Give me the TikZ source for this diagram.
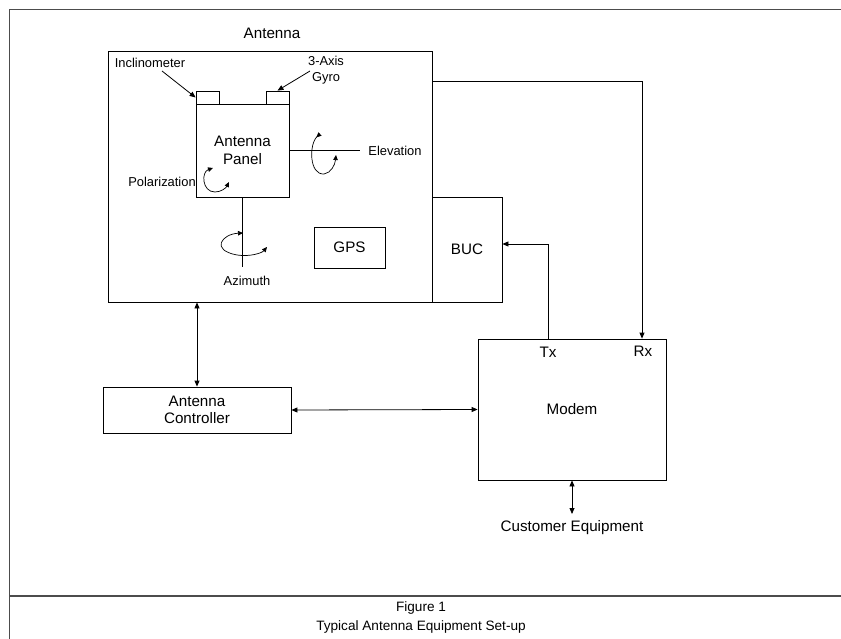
\documentclass[tikz,border=0pt]{standalone}
\usepackage{fontspec}
\setmainfont{Liberation Sans}
\usetikzlibrary{arrows.meta}

\newcommand{\bigtxt}{\fontsize{15.2}{17.5}\selectfont}
\newcommand{\smalltxt}{\fontsize{12.9}{15.5}\selectfont}

\tikzset{
  unit/.style={draw, line width=0.8pt, inner sep=0pt, font=\bigtxt, align=center},
  lbl/.style={inner sep=1pt, font=\bigtxt, align=center},
  slbl/.style={inner sep=1pt, font=\smalltxt, align=center},
  link/.style={line width=0.8pt, -{Triangle[length=6pt,width=5pt]}},
  dlink/.style={line width=0.8pt, {Triangle[length=6pt,width=5pt]}-{Triangle[length=6pt,width=5pt]}},
  rot/.style={line width=0.7pt, {Triangle[length=5pt,width=4.5pt]}-{Triangle[length=5pt,width=4.5pt]}},
  frame/.style={line width=1.2pt, gray!60!black}
}

\begin{document}
\begin{tikzpicture}[x=1pt,y=-1pt]
  \useasboundingbox (0,0) rectangle (841,639);

  % page frame and caption
  \draw[frame] (9.5,639) -- (9.5,9.5) -- (841,9.5);
  \draw[frame] (9.5,596) -- (841,596);
  \node[lbl, font=\fontsize{13.6}{16}\selectfont] (fig) at (421,608) {Figure 1};
  \node[lbl, font=\fontsize{13.6}{16}\selectfont] (title) at (421,627) {Typical Antenna Equipment Set-up};

  % antenna unit
  \node[lbl] (antlbl) at (272,33) {Antenna};
  \node[unit, minimum width=324pt, minimum height=251pt] (ant) at (270,176.5) {};
  \node[unit, minimum width=93pt, minimum height=93pt] (panel) at (242.5,150.5) {Antenna\\Panel};
  \node[unit, minimum width=23pt, minimum height=13pt] (incl) at (207.5,97.5) {};
  \node[unit, minimum width=23pt, minimum height=13pt] (gyro) at (277.5,97.5) {};
  \node[unit, minimum width=71pt, minimum height=41pt] (gps) at (349.5,247.5) {GPS};
  \node[unit, minimum width=70pt, minimum height=105pt] (buc) at (467,249.5) {BUC};

  \node[slbl] (incllbl) at (150,63) {Inclinometer};
  \node[slbl] (gyrolbl) at (326,70) {3-Axis\\Gyro};
  \coordinate (inclfrom) at (162,71);
  \coordinate (gyrofrom) at (310,71);
  \draw[link] (inclfrom) -- (incl.west);
  \draw[link] (gyrofrom) -- (gyro.north);

  % axes
  \node[slbl] (elev) at (395,151) {Elevation};
  \node[slbl] (azim) at (247,281) {Azimuth};
  \node[slbl] (polar) at (162,182) {Polarization};
  \coordinate (elevend) at (360,150.5);
  \coordinate (azimend) at (242.5,267);
  \draw[line width=0.8pt] (panel.east) -- (elevend);
  \draw[line width=0.8pt] (panel.south) -- (azimend);

  \draw[rot, {Triangle[reversed,length=5pt,width=4.5pt]}-{Triangle[length=5pt,width=4.5pt]}]
    (320,134) .. controls (309,144) and (309,175) .. (324,174) .. controls (331,173) and (335,165) .. (336,155);
  \draw[rot] (213,168) .. controls (201,172) and (202,192) .. (215,192) .. controls (221,192) and (226,188) .. (229,182);
  \draw[rot] (243,233) .. controls (222,234) and (210,250) .. (237,255) .. controls (250,257) and (262,253) .. (267,247);

  % ground equipment
  \node[unit, minimum width=188pt, minimum height=46pt] (ctrl) at (197,410) {Antenna\\Controller};
  \node[unit, minimum width=188pt, minimum height=141pt] (modem) at (572,409.5) {Modem};
  \node[lbl] (tx) at (548,352) {Tx};
  \node[lbl] (rx) at (643,351) {Rx};
  \node[lbl] (cust) at (572,528) {Customer Equipment};
  \coordinate (custend) at (572,514);

  % connectors
  \coordinate (rxturn) at (642,81);
  \coordinate (txturn) at (548,244);
  \draw[link] (rxturn -| ant.east) -- (rxturn) -- (rxturn |- modem.north);
  \draw[link] (txturn |- modem.north) -- (txturn) -- (txturn -| buc.east);
  \draw[dlink] (ctrl.north) -- (ctrl.north |- ant.south);
  \draw[dlink] (ctrl.east) -- (modem.west);
  \draw[dlink] (modem.south) -- (custend);
\end{tikzpicture}
\end{document}
